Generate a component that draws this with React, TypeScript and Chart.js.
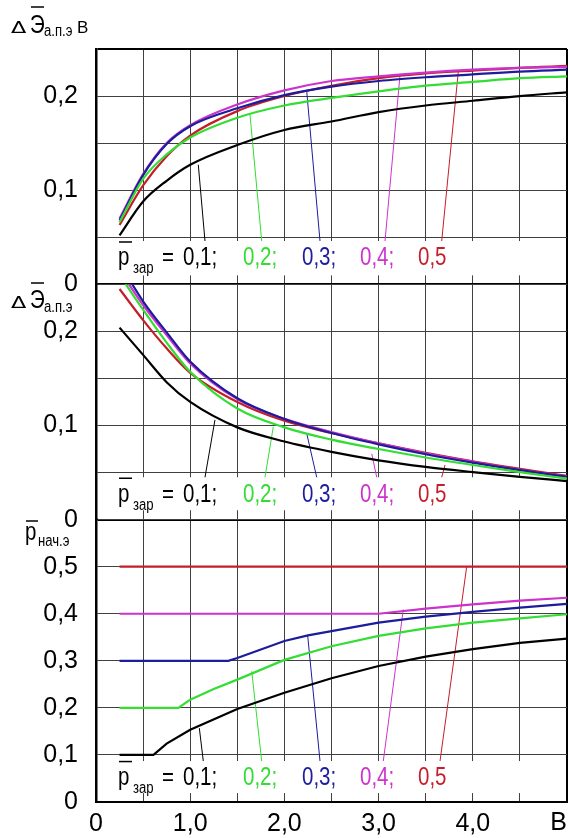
import React, { useEffect, useRef } from 'react';
import { Chart, registerables } from 'chart.js';

Chart.register(...registerables);

// ---------- data ----------
const bValues = [0.25, 0.5, 0.75, 1.0, 1.5, 2.0, 2.5, 3.0, 3.5, 4.0, 4.5, 5.0];

const seriesLabels = ['0,1;', '0,2;', '0,3;', '0,4;', '0,5'];
const seriesColors = ['#000000', '#33dd33', '#1c1c9c', '#cc33cc', '#c41e2a'];

// panel 1: ΔЭ (B), top
const p1_01 = [0.052, 0.088, 0.110, 0.127, 0.148, 0.164, 0.173, 0.183, 0.190, 0.195, 0.200, 0.204];
const p1_02 = [0.066, 0.112, 0.138, 0.156, 0.177, 0.190, 0.198, 0.205, 0.211, 0.215, 0.219, 0.221];
const p1_03 = [0.068, 0.116, 0.149, 0.168, 0.187, 0.201, 0.210, 0.216, 0.220, 0.223, 0.226, 0.228];
const p1_04 = [0.070, 0.117, 0.150, 0.169, 0.191, 0.206, 0.216, 0.221, 0.225, 0.228, 0.230, 0.231];
const p1_05 = [0.063, 0.105, 0.136, 0.158, 0.184, 0.200, 0.211, 0.219, 0.224, 0.227, 0.230, 0.232];

// panel 2: ΔЭ, middle
const p2_01 = [0.204, 0.175, 0.146, 0.125, 0.098, 0.083, 0.072, 0.063, 0.056, 0.0505, 0.0455, 0.041];
const p2_02 = [0.260, 0.223, 0.188, 0.157, 0.118, 0.098, 0.085, 0.075, 0.066, 0.058, 0.0505, 0.0435];
const p2_03 = [0.272, 0.232, 0.199, 0.168, 0.129, 0.107, 0.092, 0.080, 0.0695, 0.0605, 0.0525, 0.0455];
const p2_04 = [0.265, 0.228, 0.196, 0.166, 0.128, 0.107, 0.093, 0.081, 0.0705, 0.0615, 0.053, 0.0458];
const p2_05 = [0.245, 0.212, 0.182, 0.156, 0.125, 0.105, 0.092, 0.081, 0.071, 0.062, 0.054, 0.0465];

// panel 3: p нач.э, bottom
const p3_01_b = [0.25, 0.61, 0.75, 1.0, 1.5, 2.0, 2.5, 3.0, 3.5, 4.0, 4.5, 5.0];
const p3_01_v = [0.1, 0.1, 0.124, 0.1535, 0.1976, 0.232, 0.263, 0.289, 0.309, 0.325, 0.338, 0.347];
const p3_02_b = [0.25, 0.874, 1.0, 1.25, 1.5, 2.0, 2.5, 3.0, 3.5, 4.0, 4.5, 5.0];
const p3_02_v = [0.2, 0.2, 0.2175, 0.24, 0.26, 0.302, 0.331, 0.353, 0.369, 0.381, 0.39, 0.399];
const p3_03_b = [0.25, 1.405, 1.5, 2.0, 2.25, 2.5, 3.0, 3.5, 4.0, 4.5, 5.0];
const p3_03_v = [0.3, 0.3, 0.306, 0.342, 0.354, 0.363, 0.381, 0.394, 0.404, 0.413, 0.421];
const p3_04_b = [0.25, 3.0, 3.5, 4.0, 4.5, 5.0];
const p3_04_v = [0.4, 0.4, 0.411, 0.42, 0.428, 0.434];
const p3_05_b = [0.25, 5.0];
const p3_05_v = [0.5, 0.5];

// leader lines [bBottom, vBottom, bTop, vTop]
const lead1 = [[1.157, 0.046, 1.086, 0.127], [1.759, 0.046, 1.635, 0.18], [2.378, 0.046, 2.237, 0.205], [3.068, 0.046, 3.227, 0.222], [3.67, 0.046, 3.846, 0.226]];
const lead2 = [[1.157, 0.045, 1.263, 0.106], [1.794, 0.045, 1.882, 0.0985], [2.343, 0.045, 2.237, 0.0915], [2.98, 0.045, 2.927, 0.07], [3.67, 0.045, 3.705, 0.058]];
const lead3 = [[1.139, 0.087, 1.097, 0.157], [1.759, 0.087, 1.653, 0.278], [2.378, 0.087, 2.247, 0.354], [3.05, 0.087, 3.262, 0.409], [3.652, 0.087, 3.935, 0.5]];

// tick labels
const xTickValues = [0, 1, 2, 3, 4];
const xTickLabels = ['0', '1,0', '2,0', '3,0', '4,0'];
const xUnitLabel = 'B';
const y1TickValues = [0, 0.1, 0.2];
const y1TickLabels = ['0', '0,1', '0,2'];
const y2TickValues = [0, 0.1, 0.2];
const y2TickLabels = ['0', '0,1', '0,2'];
const y3TickValues = [0, 0.1, 0.2, 0.3, 0.4, 0.5];
const y3TickLabels = ['0', '0,1', '0,2', '0,3', '0,4', '0,5'];

// ---------- styling ----------
function hasFont(name: string) {
  const c = document.createElement('canvas').getContext('2d')!;
  c.font = '40px monospace';
  const a = c.measureText('0,1;ABCabc').width;
  c.font = `40px "${name}", monospace`;
  const b = c.measureText('0,1;ABCabc').width;
  return Math.abs(a - b) > 0.5;
}
const NARROW = hasFont('Liberation Sans Narrow');
const FAMILY = NARROW ? '"Liberation Sans Narrow", "Liberation Sans", sans-serif' : '"Liberation Sans", sans-serif';
const SQUEEZE = NARROW ? 1 : 0.82;
const REG = '"Liberation Sans", sans-serif';
const DEJA = '"DejaVu Sans", sans-serif';
const FS = 25;
const GRID = '#404040';

function labelFrom(values: number[], labels: string[]) {
  return (v: any) => {
    const i = values.findIndex((t) => Math.abs(t - Number(v)) < 1e-6);
    return i >= 0 ? labels[i] : '';
  };
}

function txt(ctx: CanvasRenderingContext2D, s: string, x: number, y: number, size: number, color: string, family = FAMILY, sx = SQUEEZE) {
  ctx.save();
  ctx.font = `${size}px ${family}`;
  ctx.fillStyle = color;
  ctx.textAlign = 'left';
  ctx.textBaseline = 'alphabetic';
  ctx.translate(x, y);
  ctx.scale(sx, 1);
  ctx.fillText(s, 0, 0);
  ctx.restore();
}
function bar(ctx: CanvasRenderingContext2D, x1: number, x2: number, y: number) {
  ctx.save();
  ctx.strokeStyle = '#000';
  ctx.lineWidth = 1.5;
  ctx.beginPath();
  ctx.moveTo(x1, y);
  ctx.lineTo(x2, y);
  ctx.stroke();
  ctx.restore();
}

const legendBoxes = [
  { axis: 'y1', top: 0.046, bottom: 0.0095, base: 0.020 },
  { axis: 'y2', top: 0.045, bottom: 0.010, base: 0.019 },
  { axis: 'y3', top: 0.087, bottom: 0.019, base: 0.036 },
];
const legendX = [183, 243, 302, 360, 418];

const annotPlugin = {
  id: 'annot',
  beforeDatasetsDraw(chart: any) {
    const { ctx, chartArea } = chart;
    legendBoxes.forEach((lb) => {
      const s = chart.scales[lb.axis];
      const yt = s.getPixelForValue(lb.top);
      const yb = s.getPixelForValue(lb.bottom);
      ctx.fillStyle = '#ffffff';
      ctx.fillRect(chartArea.left + 2, yt, chartArea.right - chartArea.left - 3, yb - yt);
      const base = s.getPixelForValue(lb.base);
      txt(ctx, 'p', 118, base, FS, '#000');
      bar(ctx, 119, 132, base - 23.5);
      txt(ctx, 'зар', 133, base + 8, 16, '#000');
      txt(ctx, '=', 162, base, FS, '#000');
      seriesLabels.forEach((l, i) => txt(ctx, l, legendX[i], base, FS, seriesColors[i]));
    });
  },
  afterDraw(chart: any) {
    const { ctx } = chart;
    // top title
    txt(ctx, '\u0394', 11, 33, 16, '#000', DEJA, 1.4);
    txt(ctx, 'Э', 30, 33, FS, '#000');
    bar(ctx, 31, 44, 7);
    txt(ctx, 'а.п.э', 44, 36, 16, '#000');
    txt(ctx, 'B', 77, 33, 17, '#000', REG, 1);
    // middle title
    txt(ctx, '\u0394', 11, 308, 16, '#000', DEJA, 1.4);
    txt(ctx, 'Э', 30, 308, FS, '#000');
    bar(ctx, 31, 44, 283);
    txt(ctx, 'а.п.э', 44, 312, 16, '#000');
    // bottom title
    txt(ctx, 'p', 25, 540, FS, '#000');
    bar(ctx, 26, 38, 521);
    txt(ctx, 'нач.э', 38, 546, 16, '#000');
  },
};

function lineSet(xs: number[], ys: number[], color: string, axis: string, smooth: boolean) {
  return {
    data: xs.map((x, i) => ({ x, y: ys[i] })),
    borderColor: color,
    backgroundColor: color,
    borderWidth: 2.2,
    pointRadius: 0,
    fill: false,
    yAxisID: axis,
    xAxisID: 'x',
    cubicInterpolationMode: smooth ? 'monotone' : 'default',
    tension: 0,
  };
}
function leaderSet(l: number[], color: string, axis: string) {
  return {
    data: [{ x: l[0], y: l[1] }, { x: l[2], y: l[3] }],
    borderColor: color,
    borderWidth: 1,
    pointRadius: 0,
    fill: false,
    yAxisID: axis,
    xAxisID: 'x',
  };
}

function yAxis(max: number, step: number, weight: number, vals: number[], labs: string[], blackMin: boolean) {
  return {
    type: 'linear',
    position: 'left',
    stack: 'panels',
    stackWeight: weight,
    min: 0,
    max,
    ticks: {
      stepSize: step,
      autoSkip: false,
      padding: 18,
      color: '#000',
      font: { family: FAMILY, size: FS },
      callback: labelFrom(vals, labs),
    },
    grid: {
      drawTicks: false,
      color: (c: any) => (Math.abs(c.tick.value - max) < 1e-6 || (blackMin && c.tick.value === 0) ? '#000' : GRID),
      lineWidth: (c: any) => (Math.abs(c.tick.value - max) < 1e-6 || (blackMin && c.tick.value === 0) ? 2 : 1),
    },
    border: { display: true, color: '#000', width: 2.5 },
    afterFit: (s: any) => {
      s.width = 96;
      s.paddingTop = 0;
      s.paddingBottom = 0;
    },
  };
}

export default function App() {
  const ref = useRef<HTMLCanvasElement>(null);
  useEffect(() => {
    const p1 = [p1_01, p1_02, p1_03, p1_04, p1_05];
    const p2 = [p2_01, p2_02, p2_03, p2_04, p2_05];
    const p3 = [[p3_01_b, p3_01_v], [p3_02_b, p3_02_v], [p3_03_b, p3_03_v], [p3_04_b, p3_04_v], [p3_05_b, p3_05_v]];
    const datasets: any[] = [];
    p1.forEach((v, i) => datasets.push(lineSet(bValues, v, seriesColors[i], 'y1', true)));
    p2.forEach((v, i) => datasets.push(lineSet(bValues, v, seriesColors[i], 'y2', true)));
    p3.forEach((s, i) => datasets.push(lineSet(s[0], s[1], seriesColors[i], 'y3', false)));
    lead1.forEach((l, i) => datasets.push(leaderSet(l, seriesColors[i], 'y1')));
    lead2.forEach((l, i) => datasets.push(leaderSet(l, seriesColors[i], 'y2')));
    lead3.forEach((l, i) => datasets.push(leaderSet(l, seriesColors[i], 'y3')));

    const chart = new Chart(ref.current!, {
      type: 'line',
      data: { datasets },
      plugins: [annotPlugin],
      options: {
        responsive: false,
        animation: false,
        events: [],
        layout: { padding: { left: 0, right: 1, top: 49, bottom: 0 } },
        plugins: { legend: { display: false }, tooltip: { enabled: false } },
        scales: {
          x: {
            type: 'linear',
            position: 'bottom',
            min: 0,
            max: 5,
            ticks: {
              stepSize: 0.5,
              autoSkip: false,
              maxRotation: 0,
              padding: 7,
              color: '#000',
              font: { family: FAMILY, size: FS },
              callback: labelFrom(xTickValues, xTickLabels),
            },
            grid: {
              drawTicks: false,
              color: (c: any) => (c.tick.value === 5 || c.tick.value === 0 ? '#000' : GRID),
              lineWidth: (c: any) => (c.tick.value === 5 || c.tick.value === 0 ? 2 : 1),
            },
            border: { display: true, color: '#000', width: 2 },
            title: { display: true, text: xUnitLabel, align: 'end', padding: 0, color: '#000', font: { family: FAMILY, size: FS } },
            afterFit: (s: any) => {
              s.height = 36;
              s.paddingLeft = 0;
              s.paddingRight = 0;
            },
          },
          y3: yAxis(0.6, 0.1, 6, y3TickValues, y3TickLabels, true),
          y2: yAxis(0.25, 0.05, 5, y2TickValues, y2TickLabels, false),
          y1: yAxis(0.25, 0.05, 5, y1TickValues, y1TickLabels, false),
        } as any,
      } as any,
    } as any);
    return () => chart.destroy();
  }, []);
  return (
    <div style={{ position: 'fixed', left: 0, top: 0, width: 568, height: 838, background: '#fff' }}>
      <canvas ref={ref} width={568} height={838} style={{ width: 568, height: 838, display: 'block' }} />
    </div>
  );
}
